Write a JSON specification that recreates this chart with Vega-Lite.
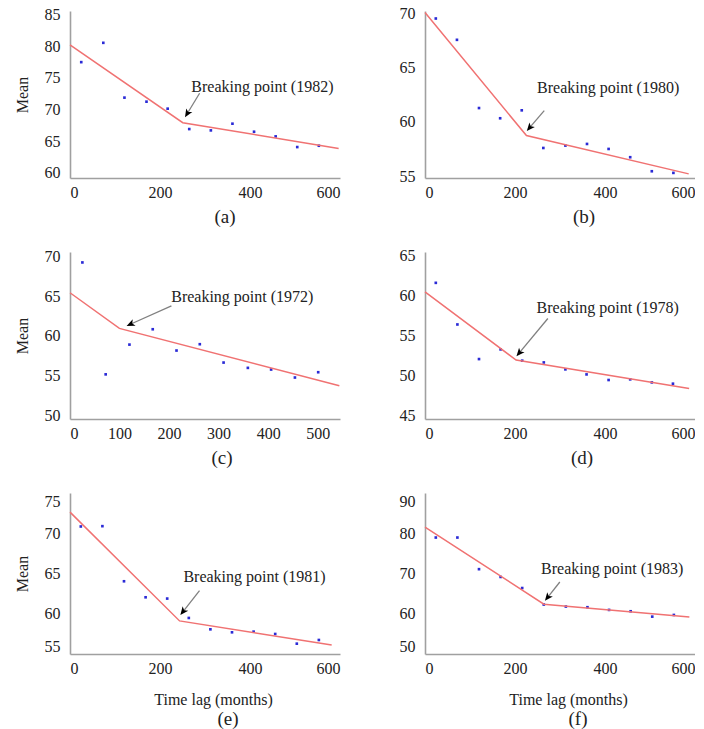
{
  "$schema": "https://vega.github.io/schema/vega-lite/v6.json",
  "padding": {"left": 14, "top": 5, "right": 0, "bottom": 0},
  "background": "white",
  "config": {
    "font": "Liberation Serif",
    "view": {"stroke": null},
    "axis": {"grid": false, "ticks": false, "domainColor": "#a0a0a0", "domainWidth": 1.6, "labelFont": "Liberation Serif", "labelFontSize": 16, "labelColor": "#222", "labelFlush": true, "labelOverlap": false, "labelSeparation": 0, "labelBound": false, "titleFont": "Liberation Serif", "titleFontSize": 16, "titleFontWeight": "normal", "titleColor": "#222"},
    "axisX": {"labelPadding": 6, "titlePadding": 15, "labelOverlap": false},
    "axisY": {"labelPadding": 10, "titlePadding": 14, "labelOverlap": false},
    "text": {"font": "Liberation Serif"},
    "title": {"font": "Liberation Serif", "fontSize": 19, "fontWeight": "normal", "orient": "bottom", "color": "#222", "offset": 8}
  },
  "datasets": {
    "pts": [
      {"panel": "a", "x": 25, "y": 77.5}, {"panel": "a", "x": 74, "y": 80.56}, {"panel": "a", "x": 121, "y": 71.88}, {"panel": "a", "x": 170, "y": 71.24}, {"panel": "a", "x": 217, "y": 70.13}, {"panel": "a", "x": 265, "y": 66.9}, {"panel": "a", "x": 313, "y": 66.69}, {"panel": "a", "x": 361, "y": 67.75}, {"panel": "a", "x": 409, "y": 66.48}, {"panel": "a", "x": 457, "y": 65.74}, {"panel": "a", "x": 505, "y": 64.05}, {"panel": "a", "x": 553, "y": 64.26},
      {"panel": "b", "x": 24, "y": 69.51}, {"panel": "b", "x": 71, "y": 67.55}, {"panel": "b", "x": 120, "y": 61.28}, {"panel": "b", "x": 167, "y": 60.34}, {"panel": "b", "x": 215, "y": 61.07}, {"panel": "b", "x": 263, "y": 57.61}, {"panel": "b", "x": 312, "y": 57.83}, {"panel": "b", "x": 360, "y": 57.98}, {"panel": "b", "x": 408, "y": 57.52}, {"panel": "b", "x": 456, "y": 56.76}, {"panel": "b", "x": 504, "y": 55.47}, {"panel": "b", "x": 552, "y": 55.32},
      {"panel": "c", "x": 25, "y": 69.28}, {"panel": "c", "x": 72, "y": 55.14}, {"panel": "c", "x": 120, "y": 58.9}, {"panel": "c", "x": 167, "y": 60.84}, {"panel": "c", "x": 215, "y": 58.15}, {"panel": "c", "x": 262, "y": 58.95}, {"panel": "c", "x": 310, "y": 56.63}, {"panel": "c", "x": 359, "y": 55.96}, {"panel": "c", "x": 406, "y": 55.75}, {"panel": "c", "x": 454, "y": 54.74}, {"panel": "c", "x": 501, "y": 55.41},
      {"panel": "d", "x": 24, "y": 61.54}, {"panel": "d", "x": 72, "y": 56.33}, {"panel": "d", "x": 120, "y": 52.0}, {"panel": "d", "x": 168, "y": 53.21}, {"panel": "d", "x": 216, "y": 51.8}, {"panel": "d", "x": 264, "y": 51.58}, {"panel": "d", "x": 312, "y": 50.71}, {"panel": "d", "x": 359, "y": 50.08}, {"panel": "d", "x": 408, "y": 49.38}, {"panel": "d", "x": 456, "y": 49.46}, {"panel": "d", "x": 504, "y": 49.08}, {"panel": "d", "x": 551, "y": 48.92},
      {"panel": "e", "x": 24, "y": 70.92}, {"panel": "e", "x": 72, "y": 70.96}, {"panel": "e", "x": 120, "y": 64.08}, {"panel": "e", "x": 168, "y": 62.08}, {"panel": "e", "x": 216, "y": 61.92}, {"panel": "e", "x": 264, "y": 59.5}, {"panel": "e", "x": 312, "y": 58.08}, {"panel": "e", "x": 360, "y": 57.71}, {"panel": "e", "x": 408, "y": 57.79}, {"panel": "e", "x": 456, "y": 57.5}, {"panel": "e", "x": 504, "y": 56.29}, {"panel": "e", "x": 553, "y": 56.75},
      {"panel": "f", "x": 24, "y": 79.08}, {"panel": "f", "x": 72, "y": 79.08}, {"panel": "f", "x": 120, "y": 71.18}, {"panel": "f", "x": 168, "y": 69.24}, {"panel": "f", "x": 216, "y": 66.47}, {"panel": "f", "x": 264, "y": 62.35}, {"panel": "f", "x": 313, "y": 61.85}, {"panel": "f", "x": 361, "y": 61.68}, {"panel": "f", "x": 409, "y": 61.01}, {"panel": "f", "x": 457, "y": 60.67}, {"panel": "f", "x": 505, "y": 59.33}, {"panel": "f", "x": 553, "y": 59.75}
    ],
    "fit": [
      {"panel": "a", "x": 0, "y": 80.24}, {"panel": "a", "x": 250.6, "y": 67.91}, {"panel": "a", "x": 597, "y": 63.84},
      {"panel": "b", "x": 0, "y": 70.06}, {"panel": "b", "x": 225.4, "y": 58.75}, {"panel": "b", "x": 586, "y": 55.23},
      {"panel": "c", "x": 0, "y": 65.45}, {"panel": "c", "x": 99.7, "y": 60.95}, {"panel": "c", "x": 543.7, "y": 53.7},
      {"panel": "d", "x": 0, "y": 60.4}, {"panel": "d", "x": 202.4, "y": 51.88}, {"panel": "d", "x": 587, "y": 48.33},
      {"panel": "e", "x": 0, "y": 72.71}, {"panel": "e", "x": 243.5, "y": 59.13}, {"panel": "e", "x": 581.5, "y": 56.13},
      {"panel": "f", "x": 0, "y": 81.68}, {"panel": "f", "x": 264.2, "y": 62.44}, {"panel": "f", "x": 587.5, "y": 59.24}
    ],
    "ann": [
      {"panel": "a", "x0": 288, "y0": 72.57, "x1": 261, "y1": 69.4, "lx": 427.5, "ly": 73.6, "label": "Breaking point (1982)"},
      {"panel": "b", "x0": 265, "y0": 61.04, "x1": 233, "y1": 59.5, "lx": 407, "ly": 63.09, "label": "Breaking point (1980)"},
      {"panel": "c", "x0": 204.7, "y0": 63.8, "x1": 123, "y1": 61.5, "lx": 347.8, "ly": 64.86, "label": "Breaking point (1972)"},
      {"panel": "d", "x0": 273, "y0": 57.08, "x1": 210, "y1": 52.8, "lx": 406, "ly": 58.4, "label": "Breaking point (1978)"},
      {"panel": "e", "x0": 287.8, "y0": 62.92, "x1": 251.7, "y1": 60.33, "lx": 410, "ly": 64.58, "label": "Breaking point (1981)"},
      {"panel": "f", "x0": 299.6, "y0": 67.98, "x1": 273, "y1": 64.2, "lx": 416, "ly": 71.18, "label": "Breaking point (1983)"}
    ]
  },
  "columns": 2,
  "bounds": "flush",
  "spacing": {"column": 85, "row": 74},
  "concat": [
    {
      "width": 270, "height": 167,
      "title": {"text": "(a)", "dx": 20},
      "layer": [
        {"data": {"name": "pts"}, "transform": [{"filter": "datum.panel === 'a'"}],
         "mark": {"type": "square", "size": 7, "color": "#2a2ad6", "opacity": 1},
         "encoding": {
           "x": {"field": "x", "type": "quantitative", "scale": {"domain": [0, 600], "nice": false, "zero": false}, "axis": {"title": null, "values": [0, 200, 400, 600], "labelOverlap": false}},
           "y": {"field": "y", "type": "quantitative", "scale": {"domain": [59.15, 85.6], "nice": false, "zero": false}, "axis": {"title": "Mean", "values": [60, 65, 70, 75, 80, 85], "tickCount": 6, "labelOverlap": false}}}},
        {"data": {"name": "fit"}, "transform": [{"filter": "datum.panel === 'a'"}],
         "mark": {"type": "line", "color": "#f07272", "strokeWidth": 1.5},
         "encoding": {"x": {"field": "x", "type": "quantitative"}, "y": {"field": "y", "type": "quantitative"}}},
        {"data": {"name": "ann"}, "transform": [{"filter": "datum.panel === 'a'"}],
         "mark": {"type": "rule", "color": "#808080", "strokeWidth": 1.3},
         "encoding": {"x": {"field": "x0", "type": "quantitative"}, "y": {"field": "y0", "type": "quantitative"}, "x2": {"field": "x1"}, "y2": {"field": "y1"}}},
        {"data": {"name": "ann"}, "transform": [{"filter": "datum.panel === 'a'"}],
         "mark": {"type": "point", "shape": "M0,-1L0.75,0.75L0,0.3L-0.75,0.75Z", "filled": true, "color": "black", "opacity": 1, "size": 90, "angle": 211},
         "encoding": {"x": {"field": "x1", "type": "quantitative"}, "y": {"field": "y1", "type": "quantitative"}}},
        {"data": {"name": "ann"}, "transform": [{"filter": "datum.panel === 'a'"}],
         "mark": {"type": "text", "font": "Liberation Serif", "fontSize": 16, "align": "center", "baseline": "middle", "color": "#222"},
         "encoding": {"x": {"field": "lx", "type": "quantitative"}, "y": {"field": "ly", "type": "quantitative"}, "text": {"field": "label"}}}
      ]
    },
    {
      "width": 270, "height": 167,
      "title": {"text": "(b)", "dx": 24},
      "layer": [
        {"data": {"name": "pts"}, "transform": [{"filter": "datum.panel === 'b'"}],
         "mark": {"type": "square", "size": 7, "color": "#2a2ad6", "opacity": 1},
         "encoding": {
           "x": {"field": "x", "type": "quantitative", "scale": {"domain": [0, 600], "nice": false, "zero": false}, "axis": {"title": null, "values": [0, 200, 400, 600], "labelOverlap": false}},
           "y": {"field": "y", "type": "quantitative", "scale": {"domain": [54.85, 70.2], "nice": false, "zero": false}, "axis": {"title": null, "values": [55, 60, 65, 70], "labelOverlap": false}}}},
        {"data": {"name": "fit"}, "transform": [{"filter": "datum.panel === 'b'"}],
         "mark": {"type": "line", "color": "#f07272", "strokeWidth": 1.5},
         "encoding": {"x": {"field": "x", "type": "quantitative"}, "y": {"field": "y", "type": "quantitative"}}},
        {"data": {"name": "ann"}, "transform": [{"filter": "datum.panel === 'b'"}],
         "mark": {"type": "rule", "color": "#808080", "strokeWidth": 1.3},
         "encoding": {"x": {"field": "x0", "type": "quantitative"}, "y": {"field": "y0", "type": "quantitative"}, "x2": {"field": "x1"}, "y2": {"field": "y1"}}},
        {"data": {"name": "ann"}, "transform": [{"filter": "datum.panel === 'b'"}],
         "mark": {"type": "point", "shape": "M0,-1L0.75,0.75L0,0.3L-0.75,0.75Z", "filled": true, "color": "black", "opacity": 1, "size": 90, "angle": 220},
         "encoding": {"x": {"field": "x1", "type": "quantitative"}, "y": {"field": "y1", "type": "quantitative"}}},
        {"data": {"name": "ann"}, "transform": [{"filter": "datum.panel === 'b'"}],
         "mark": {"type": "text", "font": "Liberation Serif", "fontSize": 16, "align": "center", "baseline": "middle", "color": "#222"},
         "encoding": {"x": {"field": "lx", "type": "quantitative"}, "y": {"field": "ly", "type": "quantitative"}, "text": {"field": "label"}}}
      ]
    },
    {
      "width": 270, "height": 167,
      "title": {"text": "(c)", "dx": 17},
      "layer": [
        {"data": {"name": "pts"}, "transform": [{"filter": "datum.panel === 'c'"}],
         "mark": {"type": "square", "size": 7, "color": "#2a2ad6", "opacity": 1},
         "encoding": {
           "x": {"field": "x", "type": "quantitative", "scale": {"domain": [0, 545], "nice": false, "zero": false}, "axis": {"title": null, "values": [0, 100, 200, 300, 400, 500], "labelOverlap": false}},
           "y": {"field": "y", "type": "quantitative", "scale": {"domain": [49.5, 70.6], "nice": false, "zero": false}, "axis": {"title": "Mean", "values": [50, 55, 60, 65, 70], "labelOverlap": false}}}},
        {"data": {"name": "fit"}, "transform": [{"filter": "datum.panel === 'c'"}],
         "mark": {"type": "line", "color": "#f07272", "strokeWidth": 1.5},
         "encoding": {"x": {"field": "x", "type": "quantitative"}, "y": {"field": "y", "type": "quantitative"}}},
        {"data": {"name": "ann"}, "transform": [{"filter": "datum.panel === 'c'"}],
         "mark": {"type": "rule", "color": "#808080", "strokeWidth": 1.3},
         "encoding": {"x": {"field": "x0", "type": "quantitative"}, "y": {"field": "y0", "type": "quantitative"}, "x2": {"field": "x1"}, "y2": {"field": "y1"}}},
        {"data": {"name": "ann"}, "transform": [{"filter": "datum.panel === 'c'"}],
         "mark": {"type": "point", "shape": "M0,-1L0.75,0.75L0,0.3L-0.75,0.75Z", "filled": true, "color": "black", "opacity": 1, "size": 90, "angle": 246},
         "encoding": {"x": {"field": "x1", "type": "quantitative"}, "y": {"field": "y1", "type": "quantitative"}}},
        {"data": {"name": "ann"}, "transform": [{"filter": "datum.panel === 'c'"}],
         "mark": {"type": "text", "font": "Liberation Serif", "fontSize": 16, "align": "center", "baseline": "middle", "color": "#222"},
         "encoding": {"x": {"field": "lx", "type": "quantitative"}, "y": {"field": "ly", "type": "quantitative"}, "text": {"field": "label"}}}
      ]
    },
    {
      "width": 270, "height": 167,
      "title": {"text": "(d)", "dx": 22},
      "layer": [
        {"data": {"name": "pts"}, "transform": [{"filter": "datum.panel === 'd'"}],
         "mark": {"type": "square", "size": 7, "color": "#2a2ad6", "opacity": 1},
         "encoding": {
           "x": {"field": "x", "type": "quantitative", "scale": {"domain": [0, 600], "nice": false, "zero": false}, "axis": {"title": null, "values": [0, 200, 400, 600], "labelOverlap": false}},
           "y": {"field": "y", "type": "quantitative", "scale": {"domain": [44.5, 65.4], "nice": false, "zero": false}, "axis": {"title": null, "values": [45, 50, 55, 60, 65], "labelOverlap": false}}}},
        {"data": {"name": "fit"}, "transform": [{"filter": "datum.panel === 'd'"}],
         "mark": {"type": "line", "color": "#f07272", "strokeWidth": 1.5},
         "encoding": {"x": {"field": "x", "type": "quantitative"}, "y": {"field": "y", "type": "quantitative"}}},
        {"data": {"name": "ann"}, "transform": [{"filter": "datum.panel === 'd'"}],
         "mark": {"type": "rule", "color": "#808080", "strokeWidth": 1.3},
         "encoding": {"x": {"field": "x0", "type": "quantitative"}, "y": {"field": "y0", "type": "quantitative"}, "x2": {"field": "x1"}, "y2": {"field": "y1"}}},
        {"data": {"name": "ann"}, "transform": [{"filter": "datum.panel === 'd'"}],
         "mark": {"type": "point", "shape": "M0,-1L0.75,0.75L0,0.3L-0.75,0.75Z", "filled": true, "color": "black", "opacity": 1, "size": 90, "angle": 220},
         "encoding": {"x": {"field": "x1", "type": "quantitative"}, "y": {"field": "y1", "type": "quantitative"}}},
        {"data": {"name": "ann"}, "transform": [{"filter": "datum.panel === 'd'"}],
         "mark": {"type": "text", "font": "Liberation Serif", "fontSize": 16, "align": "center", "baseline": "middle", "color": "#222"},
         "encoding": {"x": {"field": "lx", "type": "quantitative"}, "y": {"field": "ly", "type": "quantitative"}, "text": {"field": "label"}}}
      ]
    },
    {
      "width": 270, "height": 161,
      "title": {"text": "(e)", "dx": 23, "offset": 3},
      "layer": [
        {"data": {"name": "pts"}, "transform": [{"filter": "datum.panel === 'e'"}],
         "mark": {"type": "square", "size": 7, "color": "#2a2ad6", "opacity": 1},
         "encoding": {
           "x": {"field": "x", "type": "quantitative", "scale": {"domain": [0, 600], "nice": false, "zero": false}, "axis": {"title": "Time lag (months)", "titleX": 143, "values": [0, 200, 400, 600], "labelOverlap": false}},
           "y": {"field": "y", "type": "quantitative", "scale": {"domain": [55, 75.1], "nice": false, "zero": false}, "axis": {"title": "Mean", "values": [55, 60, 65, 70, 75], "labelOverlap": false}}}},
        {"data": {"name": "fit"}, "transform": [{"filter": "datum.panel === 'e'"}],
         "mark": {"type": "line", "color": "#f07272", "strokeWidth": 1.5},
         "encoding": {"x": {"field": "x", "type": "quantitative"}, "y": {"field": "y", "type": "quantitative"}}},
        {"data": {"name": "ann"}, "transform": [{"filter": "datum.panel === 'e'"}],
         "mark": {"type": "rule", "color": "#808080", "strokeWidth": 1.3},
         "encoding": {"x": {"field": "x0", "type": "quantitative"}, "y": {"field": "y0", "type": "quantitative"}, "x2": {"field": "x1"}, "y2": {"field": "y1"}}},
        {"data": {"name": "ann"}, "transform": [{"filter": "datum.panel === 'e'"}],
         "mark": {"type": "point", "shape": "M0,-1L0.75,0.75L0,0.3L-0.75,0.75Z", "filled": true, "color": "black", "opacity": 1, "size": 90, "angle": 218},
         "encoding": {"x": {"field": "x1", "type": "quantitative"}, "y": {"field": "y1", "type": "quantitative"}}},
        {"data": {"name": "ann"}, "transform": [{"filter": "datum.panel === 'e'"}],
         "mark": {"type": "text", "font": "Liberation Serif", "fontSize": 16, "align": "center", "baseline": "middle", "color": "#222"},
         "encoding": {"x": {"field": "lx", "type": "quantitative"}, "y": {"field": "ly", "type": "quantitative"}, "text": {"field": "label"}}}
      ]
    },
    {
      "width": 270, "height": 161,
      "title": {"text": "(f)", "dx": 18, "offset": 3},
      "layer": [
        {"data": {"name": "pts"}, "transform": [{"filter": "datum.panel === 'f'"}],
         "mark": {"type": "square", "size": 7, "color": "#2a2ad6", "opacity": 1},
         "encoding": {
           "x": {"field": "x", "type": "quantitative", "scale": {"domain": [0, 600], "nice": false, "zero": false}, "axis": {"title": "Time lag (months)", "titleX": 143, "values": [0, 200, 400, 600], "labelOverlap": false}},
           "y": {"field": "y", "type": "quantitative", "scale": {"domain": [50, 90.2], "nice": false, "zero": false}, "axis": {"title": null, "values": [50, 60, 70, 80, 90], "labelOverlap": false}}}},
        {"data": {"name": "fit"}, "transform": [{"filter": "datum.panel === 'f'"}],
         "mark": {"type": "line", "color": "#f07272", "strokeWidth": 1.5},
         "encoding": {"x": {"field": "x", "type": "quantitative"}, "y": {"field": "y", "type": "quantitative"}}},
        {"data": {"name": "ann"}, "transform": [{"filter": "datum.panel === 'f'"}],
         "mark": {"type": "rule", "color": "#808080", "strokeWidth": 1.3},
         "encoding": {"x": {"field": "x0", "type": "quantitative"}, "y": {"field": "y0", "type": "quantitative"}, "x2": {"field": "x1"}, "y2": {"field": "y1"}}},
        {"data": {"name": "ann"}, "transform": [{"filter": "datum.panel === 'f'"}],
         "mark": {"type": "point", "shape": "M0,-1L0.75,0.75L0,0.3L-0.75,0.75Z", "filled": true, "color": "black", "opacity": 1, "size": 90, "angle": 218},
         "encoding": {"x": {"field": "x1", "type": "quantitative"}, "y": {"field": "y1", "type": "quantitative"}}},
        {"data": {"name": "ann"}, "transform": [{"filter": "datum.panel === 'f'"}],
         "mark": {"type": "text", "font": "Liberation Serif", "fontSize": 16, "align": "center", "baseline": "middle", "color": "#222"},
         "encoding": {"x": {"field": "lx", "type": "quantitative"}, "y": {"field": "ly", "type": "quantitative"}, "text": {"field": "label"}}}
      ]
    }
  ]
}
